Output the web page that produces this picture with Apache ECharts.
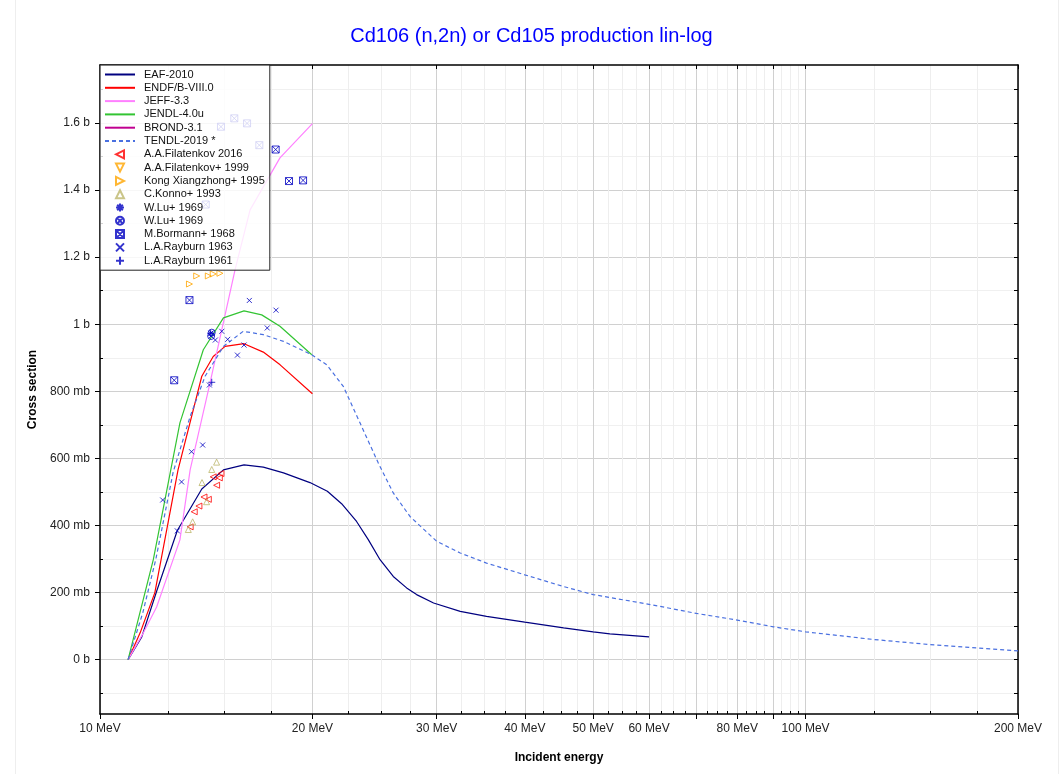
<!DOCTYPE html>
<html><head><meta charset="utf-8">
<script src="https://cdn.jsdelivr.net/npm/echarts@6/dist/echarts.min.js"></script>
<style>html,body{margin:0;padding:0;background:#fff}#c{width:1063px;height:774px}</style>
</head><body><div id="c"></div>
<script>
// ---------- tick definitions (MeV / mb) ----------
const xMajorTicks = [10, 20, 30, 40, 50, 60, 70, 80, 90, 100, 200];
const xLabelTicks = [10, 20, 30, 40, 50, 60, 80, 100, 200];
const xMinorTicks = [12.5, 15, 17.5, 22.5, 25, 27.5, 32.5, 35, 37.5, 42.5, 45, 47.5, 52.5, 55, 57.5,
  62.5, 65, 67.5, 72.5, 75, 77.5, 82.5, 85, 87.5, 92.5, 95, 97.5, 125, 150, 175];
const yMajorTicks = [0, 200, 400, 600, 800, 1000, 1200, 1400, 1600];
const yMinorTicks = [-100, 100, 300, 500, 700, 900, 1100, 1300, 1500, 1700];

// ---------- evaluated data (energy MeV, cross section mb) ----------
const eafE = [10.96, 11.46, 12.03, 12.87, 13.94, 14.96, 16.0, 17.04, 18.2, 19.84, 21.0, 22.0, 23.1, 24.0, 24.94, 26.04, 27.2, 28.1, 29.7, 32.4, 35.3, 40.0, 45.4, 50.0, 52.8, 60.0];
const eafV = [0, 68, 204, 385, 509, 566, 581, 574, 557, 528, 502, 465, 412, 358, 298, 248, 214, 194, 169, 144, 129, 112, 95, 83, 77, 68];

const endfE = [10.96, 11.4, 11.96, 12.9, 13.94, 14.47, 15.04, 16.0, 17.04, 18.0, 20.0];
const endfV = [0, 80, 200, 566, 845, 904, 934, 942, 917, 879, 793];

const jeffE = [10.96, 11.52, 12.03, 12.98, 13.42, 14.32, 15.54, 16.32, 17.99, 20.0];
const jeffV = [0, 80, 157, 357, 566, 825, 1163, 1341, 1496, 1598];

const jendlE = [10.96, 11.9, 12.98, 14.01, 14.96, 16.0, 16.95, 17.99, 19.96];
const jendlV = [0, 298, 706, 924, 1019, 1040, 1028, 994, 909];

const brondE = [];
const brondV = [];

const tendlE = [10.96, 11.5, 12.0, 12.7, 13.42, 14.09, 14.96, 15.96, 17.04, 18.2, 19.96, 20.96, 22.12, 23.36, 24.8, 26.04, 27.5, 30.0, 32.4, 35.3, 40.0, 45.4, 50.0, 60.0, 70.0, 80.0, 90.0, 100.0, 125.0, 150.0, 175.0, 200.0];
const tendlV = [0, 140, 300, 560, 725, 845, 934, 979, 969, 949, 909, 879, 815, 706, 586, 497, 427, 353, 318, 288, 253, 218, 194, 165, 138, 118, 98, 83, 60, 45, 35, 26];

// ---------- experimental data ----------
const filat2016E = [13.42, 13.60, 13.81, 14.04, 14.24, 14.47, 14.63, 14.76, 14.84];
const filat2016V = [396, 441, 458, 485, 478, 545, 520, 542, 555];
const filat1999E = [];
const filat1999V = [];
const kongE = [13.39, 13.71, 14.24, 14.47, 14.79];
const kongV = [1120, 1144, 1144, 1150, 1152];
const konnoE = [13.34, 13.53, 13.95, 14.16, 14.40, 14.63];
const konnoV = [388, 411, 528, 471, 567, 589];
const lu1E = [14.35];
const lu1V = [973];
const lu2E = [14.37, 14.40];
const lu2V = [965, 975];
const bormannE = [12.74, 13.39, 14.12, 14.84, 15.50, 16.16, 16.82, 17.74, 18.53, 19.40];
const bormannV = [833, 1072, 1357, 1589, 1614, 1599, 1534, 1521, 1427, 1429];
const ray1963E = [12.27, 12.87, 13.05, 13.48, 13.98, 14.29, 14.57, 14.88, 15.17, 15.66, 16.00, 16.28, 17.26, 17.76];
const ray1963V = [476, 384, 530, 620, 640, 819, 953, 979, 955, 908, 938, 1071, 989, 1042];
const ray1961E = [14.40];
const ray1961V = [827];

// ---------- helpers ----------
const lg = Math.log10;
const pts = (E, V) => E.map((e, i) => [lg(e), V[i]]);
const xMin = lg(10), xMax = lg(200);
const yMin = -162, yMax = 1773;
const FONT = 'Liberation Sans, Arial, sans-serif';

const P = {
  left: 'path://M0,5L10,0L10,10Z',
  down: 'path://M0,0L10,0L5,10Z',
  right: 'path://M0,0L10,5L0,10Z',
  up: 'path://M5,0L10,10L0,10Z',
  star: 'path://M5,0L5,10M0,5L10,5M1.5,1.5L8.5,8.5M8.5,1.5L1.5,8.5',
  cx: 'path://M10,5A5,5,0,1,1,0,5A5,5,0,1,1,10,5ZM1.5,1.5L8.5,8.5M8.5,1.5L1.5,8.5',
  sx: 'path://M0,0L10,0L10,10L0,10ZM0,0L10,10M10,0L0,10',
  x: 'path://M0,0L10,10M10,0L0,10',
  plus: 'path://M5,0L5,10M0,5L10,5'
};

const lineNames = [];
function lineS(name, E, V, color, dashed) {
  lineNames.push(name);
  return { name, type: 'line', data: pts(E, V), symbol: 'none', smooth: false,
    lineStyle: { color, width: 1.2, type: dashed ? [4, 3] : 'solid' }, itemStyle: { color },
    z: 3, animation: false };
}
function scatS(name, E, V, color, sym, size) {
  return { name, type: 'scatter', data: pts(E, V), symbol: sym, symbolSize: size, symbolKeepAspect: true,
    itemStyle: { color: 'none', borderColor: color, borderWidth: 1 }, z: 4, animation: false };
}

const blue = '#0000c0';
const series = [
  lineS('EAF-2010', eafE, eafV, '#000080'),
  lineS('ENDF/B-VIII.0', endfE, endfV, '#ff0000'),
  lineS('JEFF-3.3', jeffE, jeffV, '#ff80ff'),
  lineS('JENDL-4.0u', jendlE, jendlV, '#33c433'),
  lineS('BROND-3.1', brondE, brondV, '#c00090'),
  lineS('TENDL-2019 *', tendlE, tendlV, '#4a70e0', true),
  scatS('A.A.Filatenkov 2016', filat2016E, filat2016V, '#ff0000', P.left, 6),
  scatS('A.A.Filatenkov+ 1999', filat1999E, filat1999V, '#ffa500', P.down, 6),
  scatS('Kong Xiangzhong+ 1995', kongE, kongV, '#ffa500', P.right, 6),
  scatS('C.Konno+ 1993', konnoE, konnoV, '#bdb76b', P.up, 6),
  scatS('W.Lu+ 1969 ', lu1E, lu1V, blue, P.star, 7),
  scatS('W.Lu+ 1969', lu2E, lu2V, blue, P.cx, 7),
  scatS('M.Bormann+ 1968', bormannE, bormannV, blue, P.sx, 7),
  scatS('L.A.Rayburn 1963', ray1963E, ray1963V, blue, P.x, 5),
  scatS('L.A.Rayburn 1961', ray1961E, ray1961V, blue, P.plus, 7)
];
const legendData = series.map(s => lineNames.indexOf(s.name) >= 0
  ? { name: s.name, itemStyle: { opacity: 0 } } : { name: s.name });

const fmtX = v => Math.round(Math.pow(10, v)) + ' MeV';
const fmtY = v => v === 0 ? '0 b' : (Math.abs(v) < 1000 ? v + ' mb' : (v / 1000) + ' b');

const chart = echarts.init(document.getElementById('c'), null, { renderer: 'canvas' });
chart.setOption({
  animation: false,
  backgroundColor: '#fff',
  textStyle: { fontFamily: FONT },
  title: { text: 'Cd106 (n,2n) or Cd105 production lin-log', left: 'center', top: 21,
    textStyle: { color: '#0000ff', fontSize: 20, fontWeight: 'normal', fontFamily: FONT } },
  graphic: [
    { type: 'line', shape: { x1: 15.5, y1: 0, x2: 15.5, y2: 774 }, style: { stroke: '#eeeeee', lineWidth: 1 }, silent: true },
    { type: 'line', shape: { x1: 1058.5, y1: 0, x2: 1058.5, y2: 774 }, style: { stroke: '#eeeeee', lineWidth: 1 }, silent: true }
  ],
  grid: { left: 100, right: 45, top: 65, bottom: 60, show: false },
  legend: {
    data: legendData,
    orient: 'vertical', left: 100, top: 65, padding: [3, 5, 3, 4],
    itemWidth: 30, itemHeight: 8, itemGap: 0.3,
    backgroundColor: 'rgba(255,255,255,0.82)', borderColor: '#222', borderWidth: 1, borderRadius: 0,
    textStyle: { fontSize: 11, color: '#111', fontFamily: FONT, lineHeight: 13, padding: [0, 0, 0, 4] },
    lineStyle: { width: 2 }, z: 10,
    selectedMode: false
  },
  xAxis: [
    { type: 'value', min: xMin, max: xMax, position: 'bottom',
      name: 'Incident energy', nameLocation: 'middle', nameGap: 38,
      nameTextStyle: { fontWeight: 'bold', fontSize: 12, color: '#000', fontFamily: FONT },
      axisLine: { show: true, onZero: false, lineStyle: { color: '#000', width: 1.5 } },
      axisTick: { show: true, length: 5, customValues: xMajorTicks.map(lg), lineStyle: { color: '#000' } },
      axisLabel: { customValues: xLabelTicks.map(lg), formatter: fmtX, fontSize: 12, color: '#222', margin: 9, fontFamily: FONT },
      splitLine: { show: true, lineStyle: { color: '#d0d0d0', width: 1 } } },
    { type: 'value', min: xMin, max: xMax, position: 'bottom',
      axisLine: { show: false, onZero: false },
      axisTick: { show: true, inside: true, length: 3, customValues: xMinorTicks.map(lg), lineStyle: { color: '#000' } },
      axisLabel: { show: false },
      splitLine: { show: true, lineStyle: { color: '#eeeeee', width: 1 } } },
    { type: 'value', min: xMin, max: xMax, position: 'top',
      axisLine: { show: true, onZero: false, lineStyle: { color: '#000', width: 1.5 } },
      axisTick: { show: true, inside: true, length: 4, customValues: xMajorTicks.map(lg), lineStyle: { color: '#000' } },
      axisLabel: { show: false }, splitLine: { show: false } }
  ],
  yAxis: [
    { type: 'value', min: yMin, max: yMax, position: 'left',
      name: 'Cross section', nameLocation: 'middle', nameGap: 54,
      nameTextStyle: { fontWeight: 'bold', fontSize: 12, color: '#000', fontFamily: FONT },
      axisLine: { show: true, onZero: false, lineStyle: { color: '#000', width: 1.5 } },
      axisTick: { show: true, length: 5, customValues: yMajorTicks, lineStyle: { color: '#000' } },
      axisLabel: { customValues: yMajorTicks, formatter: fmtY, fontSize: 12, color: '#222', margin: 10, fontFamily: FONT },
      splitLine: { show: true, lineStyle: { color: '#d0d0d0', width: 1 } } },
    { type: 'value', min: yMin, max: yMax, position: 'left',
      axisLine: { show: false, onZero: false },
      axisTick: { show: true, inside: true, length: 3, customValues: yMinorTicks, lineStyle: { color: '#000' } },
      axisLabel: { show: false },
      splitLine: { show: true, lineStyle: { color: '#f0f0f0', width: 1 } } },
    { type: 'value', min: yMin, max: yMax, position: 'right',
      axisLine: { show: true, onZero: false, lineStyle: { color: '#000', width: 1.5 } },
      axisTick: { show: true, inside: true, length: 4, customValues: yMajorTicks.concat(yMinorTicks), lineStyle: { color: '#000' } },
      axisLabel: { show: false }, splitLine: { show: false } }
  ],
  series: series
});
</script>
</body></html>
